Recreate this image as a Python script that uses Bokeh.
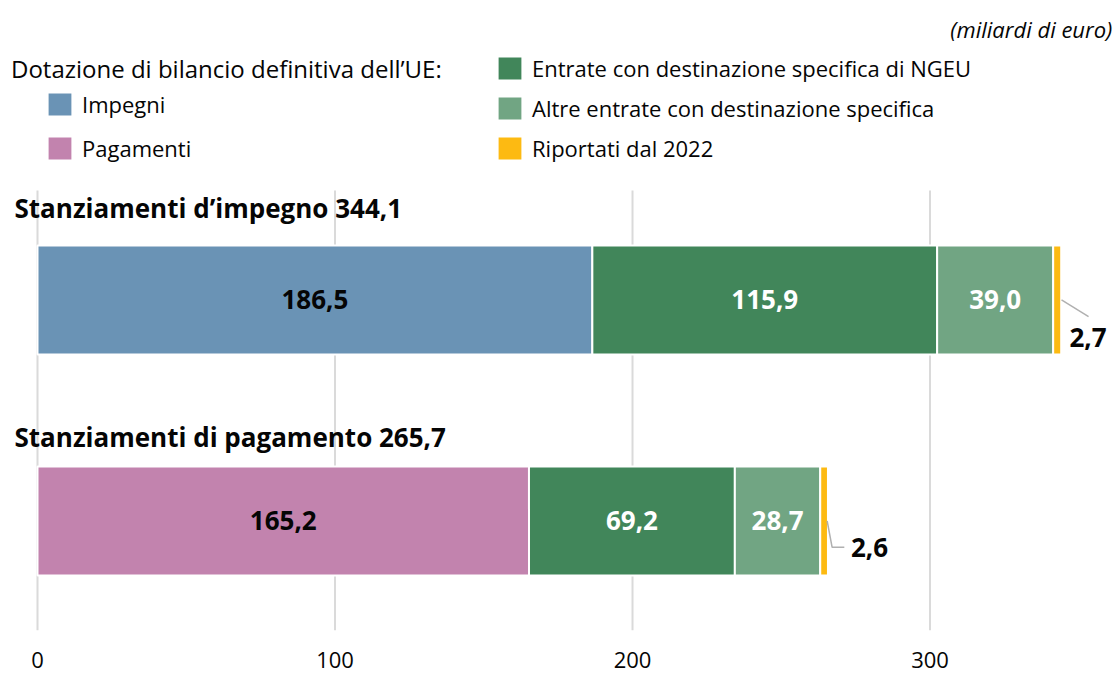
from bokeh.plotting import figure
from bokeh.models import ColumnDataSource, Range1d, Legend, LegendItem, FixedTicker
from bokeh.core.properties import value
from bokeh.embed import file_html
from bokeh.resources import INLINE

# ---------------- data ----------------
CATEGORIES = ["Stanziamenti d\u2019impegno", "Stanziamenti di pagamento"]
DOTAZIONE_LABELS = ["Impegni", "Pagamenti"]
DOTAZIONE = [186.5, 165.2]
NGEU = [115.9, 69.2]
ALTRE = [39.0, 28.7]
RIPORTATI = [2.7, 2.6]
SERIES_NAMES = ["Entrate con destinazione specifica di NGEU",
                "Altre entrate con destinazione specifica",
                "Riportati dal 2022"]
XTICKS = [0, 100, 200, 300]
UNIT = "(miliardi di euro)"
HEADER = "Dotazione di bilancio definitiva dell\u2019UE:"

# ---------------- style / layout ----------------
FONT = "Open Sans"
TXT = "#050505"
C_DOT = ["#6A93B5", "#C283AE"]
C_NGEU = "#41865A"
C_ALTRE = "#71A583"
C_RIP = "#FDBA12"
Y = [1, 0]
BAR_H = 0.493
TITLE_DY = [0.416, 0.382]


def fmt(v):
    return f"{v:.1f}".replace(".", ",")


p = figure(width=1115, height=675, x_range=Range1d(-12.437, 362.35),
           y_range=Range1d(-0.4955, 2.355), output_backend="svg",
           toolbar_location=None, min_border=0, min_border_bottom=45,
           y_axis_location=None, outline_line_color=None,
           background_fill_color="white")
p.xgrid.visible = False
p.ygrid.visible = False

ax = p.xaxis[0]
ax.ticker = FixedTicker(ticks=XTICKS)
ax.axis_line_color = None
ax.major_tick_line_color = None
ax.minor_tick_line_color = None
ax.major_label_text_font = FONT
ax.major_label_text_font_size = "22px"
ax.major_label_text_color = TXT
ax.major_label_standoff = 15

# vertical grid lines
p.segment(x0=XTICKS, x1=XTICKS, y0=-0.4955, y1=1.4955, line_color="#dadada", line_width=2)

# stacked segments
lefts = [0.0, 0.0]
renderers = []
label_rows = []
series = [(DOTAZIONE, C_DOT, TXT), (NGEU, [C_NGEU] * 2, "white"),
          (ALTRE, [C_ALTRE] * 2, "white"), (RIPORTATI, [C_RIP] * 2, None)]
for vals, cols, tcol in series:
    rights = [l + v for l, v in zip(lefts, vals)]
    src = ColumnDataSource(dict(y=Y, left=lefts, right=rights, color=cols))
    renderers.append(p.hbar(y="y", left="left", right="right", height=BAR_H,
                            fill_color="color", line_color="white", line_width=2,
                            source=src))
    if tcol:
        label_rows.append(dict(x=[(l + rr) / 2 for l, rr in zip(lefts, rights)],
                               y=Y, t=[fmt(v) for v in vals], c=[tcol] * 2))
    lefts = rights
totals = lefts

for row in label_rows:
    p.text(x=row["x"], y=row["y"], text=row["t"], text_color=row["c"],
           text_font=value(FONT), text_font_style="bold", text_font_size="26px",
           text_align="center", text_baseline="middle")

# small values outside, with leader lines
RIP_DX = [9.0, 13.96]
RIP_DY = [-0.170, -0.120]
p.text(x=[t + dx for t, dx in zip(totals, RIP_DX)], y=[yy + dy for yy, dy in zip(Y, RIP_DY)],
       text=[fmt(v) for v in RIPORTATI], text_color=TXT, text_font=value(FONT),
       text_font_style="bold", text_font_size="26px", text_align="center",
       text_baseline="middle")
LEAD_DX = [[0.1, 9.2], [-0.27, 1.4, 5.5]]
LEAD_DY = [[0.0, -0.075], [0.0, -0.119, -0.119]]
p.multi_line(xs=[[t + d for d in dxs] for t, dxs in zip(totals, LEAD_DX)],
             ys=[[yy + d for d in dys] for yy, dys in zip(Y, LEAD_DY)],
             line_color="#b0b0b0", line_width=1.5)

# bar titles
p.text(x=[-7.73, -7.73], y=[yy + d for yy, d in zip(Y, TITLE_DY)],
       text=[f"{c} {fmt(t)}" for c, t in zip(CATEGORIES, totals)],
       text_color=TXT, text_font=value(FONT), text_font_style="bold",
       text_font_size="26px", text_align="left", text_baseline="middle")

# header and unit
p.text(x=[-8.9], y=[2.0475], text=[HEADER], text_color=TXT, text_font=value(FONT),
       text_font_size="24px", text_align="left", text_baseline="middle")
p.text(x=[361.3], y=[2.228], text=[UNIT], text_color=TXT, text_font=value(FONT),
       text_font_style="italic", text_font_size="22px", text_align="right",
       text_baseline="middle")

common = dict(border_line_color=None, background_fill_alpha=0, padding=0, margin=0,
              glyph_width=31, glyph_height=30, label_height=30, label_standoff=7,
              label_text_font=FONT, label_text_font_size="22px",
              label_text_color=TXT)
legA = Legend(items=[LegendItem(label=n, renderers=[renderers[0]], index=i)
                     for i, n in enumerate(DOTAZIONE_LABELS)],
              location=(44, 467), spacing=14, **common)
legB = Legend(items=[LegendItem(label=n, renderers=[r], index=0)
                     for n, r in zip(SERIES_NAMES, renderers[1:])],
              location=(494, 467), spacing=10, **common)
p.add_layout(legA)
p.add_layout(legB)

open("out.html", "w").write(file_html(p, INLINE))
